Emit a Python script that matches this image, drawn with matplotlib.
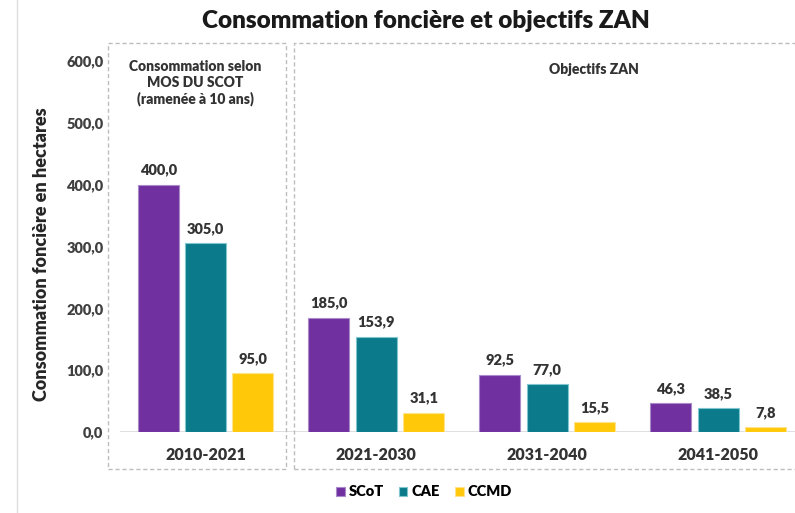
import numpy as np
import matplotlib
matplotlib.use("Agg")
import matplotlib.pyplot as plt
from matplotlib.patches import Rectangle
from matplotlib.lines import Line2D

plt.rcParams['font.family'] = ['Lato', 'DejaVu Sans']

# ── data ────────────────────────────────────────────────────────────────────
periods = ["2010-2021", "2021-2030", "2031-2040", "2041-2050"]
scot = [400.0, 185.0, 92.5, 46.3]
cae = [305.0, 153.9, 77.0, 38.5]
ccmd = [95.0, 31.1, 15.5, 7.8]
series_names = ["SCoT", "CAE", "CCMD"]
yticks = [0, 100, 200, 300, 400, 500, 600]

colors = ["#7030A0", "#0B7A8A", "#FFC90A"]
edges = ["#A98BC9", "#7FC6CF", "#FFE38A"]
W, H = 795, 513
BOLD = "heavy"

fig = plt.figure(figsize=(W / 100, H / 100), dpi=100)
fig.patch.set_facecolor("white")

def fx(px):
    return px / W

def fy(py):
    return 1 - py / H

ax = fig.add_axes([fx(120), fy(432), fx(795) - fx(120), fy(61) - fy(432)])
ax.set_xlim(-0.5, 3.45)
ax.set_ylim(0, 600)

x = np.arange(len(periods))
width = 0.24
off = 0.277
handles = []
for i, (vals, name) in enumerate(zip([scot, cae, ccmd], series_names)):
    b = ax.bar(x + (i - 1) * off, vals, width, color=colors[i],
               edgecolor=edges[i], linewidth=0.8, label=name, zorder=3)
    handles.append(b)
    for xi, v in zip(x + (i - 1) * off, vals):
        ax.annotate(f"{v:.1f}".replace(".", ","), (xi, v), xytext=(0, 6),
                    textcoords="offset points", ha="center", va="bottom",
                    fontsize=10.5, fontweight=BOLD, color="#333333")

ax.axhline(0, color="#D9D9D9", lw=1.2, zorder=1)
for s in ax.spines.values():
    s.set_visible(False)
ax.set_yticks(yticks)
ax.set_yticklabels([f"{t:.1f}".replace(".", ",") for t in yticks],
                   fontsize=10.5, fontweight=BOLD, color="#404040")
ax.tick_params(axis="y", length=0, pad=12)
ax.set_xticks(x)
ax.set_xticklabels(periods, fontsize=11.5, fontweight=BOLD, color="#333333")
ax.tick_params(axis="x", length=0, pad=11)

ax.set_ylabel("Consommation foncière en hectares", fontsize=13,
              fontweight=BOLD, color="#262626")
ax.yaxis.set_label_coords((50 - 120) / (795 - 120), 0.48)

# dashed group boxes
box_kw = dict(fill=False, edgecolor="#BDBDBD", lw=1.0, ls=(0, (3, 2)),
              transform=fig.transFigure, clip_on=False)
fig.patches.append(Rectangle((fx(108), fy(469)), fx(286) - fx(108),
                             fy(43) - fy(469), **box_kw))
fig.patches.append(Rectangle((fx(294), fy(469)), fx(800) - fx(294),
                             fy(43) - fy(469), **box_kw))

fig.text(fx(195), fy(83), "Consommation selon\nMOS DU SCOT\n(ramenée à 10 ans)",
         ha="center", va="center", fontsize=10, fontweight=BOLD,
         color="#333333", linespacing=1.25)
fig.text(fx(594), fy(69), "Objectifs ZAN", ha="center", va="center",
         fontsize=10, fontweight=BOLD, color="#333333")

# left border line
fig.lines.append(Line2D([fx(17), fx(17)], [0, 1], color="#DDDDDD", lw=1,
                        transform=fig.transFigure))

fig.text(fx(426), fy(21), "Consommation foncière et objectifs ZAN",
         ha="center", va="center", fontsize=17.5, fontweight=BOLD, color="#1A1A1A")

fig.legend(handles=handles, labels=series_names, loc="center",
           bbox_to_anchor=(fx(424), fy(492)), ncol=3, frameon=False,
           handlelength=0.6, handleheight=0.6, handletextpad=0.3,
           columnspacing=1.0, prop={"weight": BOLD, "size": 10.5})

plt.savefig("out.png", dpi=100)
